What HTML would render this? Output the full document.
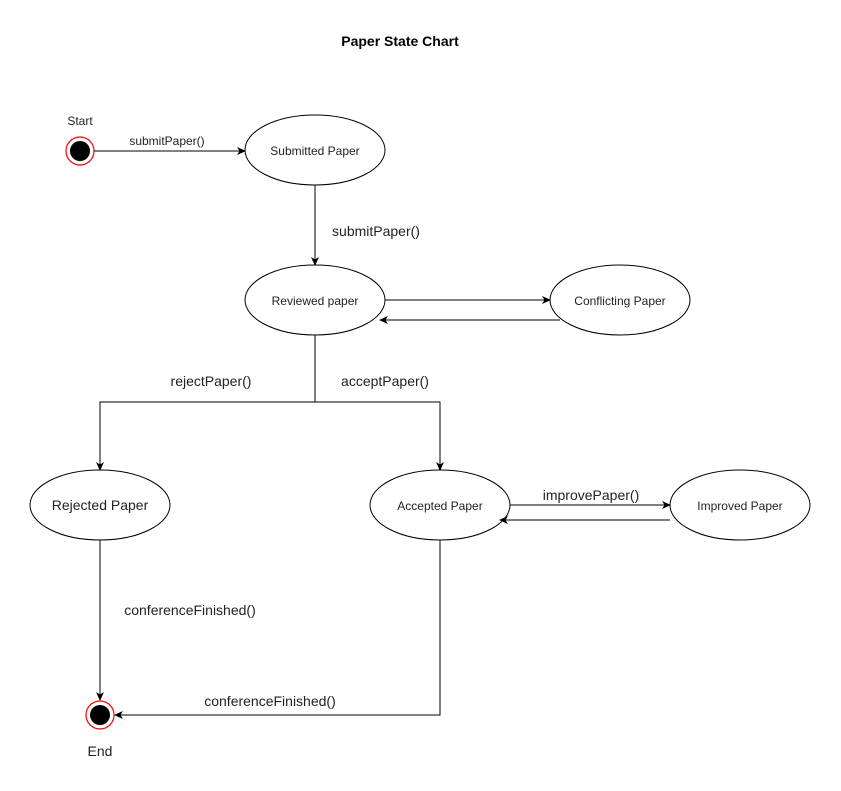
<!DOCTYPE html>
<html><head><meta charset="utf-8"><style>
html,body{margin:0;padding:0;background:#fff;}
svg{display:block;font-family:"Liberation Sans",Arial,sans-serif;}
</style></head><body>
<svg width="841" height="791" viewBox="0 0 841 791" xmlns="http://www.w3.org/2000/svg">
<defs><marker id="a" markerWidth="10" markerHeight="10" refX="8" refY="5" orient="auto" markerUnits="userSpaceOnUse"><path d="M0,1 L9,5 L0,9 L2.5,5 Z" fill="#000"/></marker></defs>
<text x="400" y="46" font-size="14" font-weight="bold" text-anchor="middle">Paper State Chart</text>
<g fill="#fff" stroke="#000" stroke-width="1">
<ellipse cx="315" cy="150" rx="70" ry="35"/>
<ellipse cx="315" cy="300" rx="70" ry="35"/>
<ellipse cx="620" cy="300" rx="70" ry="35"/>
<ellipse cx="100" cy="505" rx="70" ry="35"/>
<ellipse cx="440" cy="505" rx="70" ry="35"/>
<ellipse cx="740" cy="505" rx="70" ry="35"/>
</g>
<circle cx="80" cy="151" r="14" fill="#fff" stroke="#f00" stroke-width="1.2"/>
<circle cx="80" cy="151" r="10" fill="#000"/>
<circle cx="100" cy="715" r="14" fill="#fff" stroke="#f00" stroke-width="1.2"/>
<circle cx="100" cy="715" r="10" fill="#000"/>
<g stroke="#000" stroke-width="1" fill="none" marker-end="url(#a)">
<path d="M94,151 H245"/>
<path d="M315,185 V265"/>
<path d="M385,300 H550"/>
<path d="M560,320 H380"/>
<path d="M315,335 V402 H100 V470"/>
<path d="M315,402 H440 V470"/>
<path d="M510,505 H670"/>
<path d="M670,520 H500"/>
<path d="M100,540 V700"/>
<path d="M440,540 V715 H115"/>
</g>
<g font-size="12" text-anchor="middle" fill="#222">
<text x="80" y="125">Start</text>
<text x="167" y="145">submitPaper()</text>
<text x="315" y="155">Submitted Paper</text>
<text x="315" y="305">Reviewed paper</text>
<text x="620" y="305">Conflicting Paper</text>
<text x="440" y="510">Accepted Paper</text>
<text x="740" y="510">Improved Paper</text>
</g>
<g font-size="14" text-anchor="middle" fill="#222">
<text x="376" y="236">submitPaper()</text>
<text x="211" y="386">rejectPaper()</text>
<text x="385" y="386">acceptPaper()</text>
<text x="100" y="510">Rejected Paper</text>
<text x="591" y="500">improvePaper()</text>
<text x="190" y="615">conferenceFinished()</text>
<text x="270" y="706">conferenceFinished()</text>
<text x="100" y="756">End</text>
</g>
</svg>
</body></html>
